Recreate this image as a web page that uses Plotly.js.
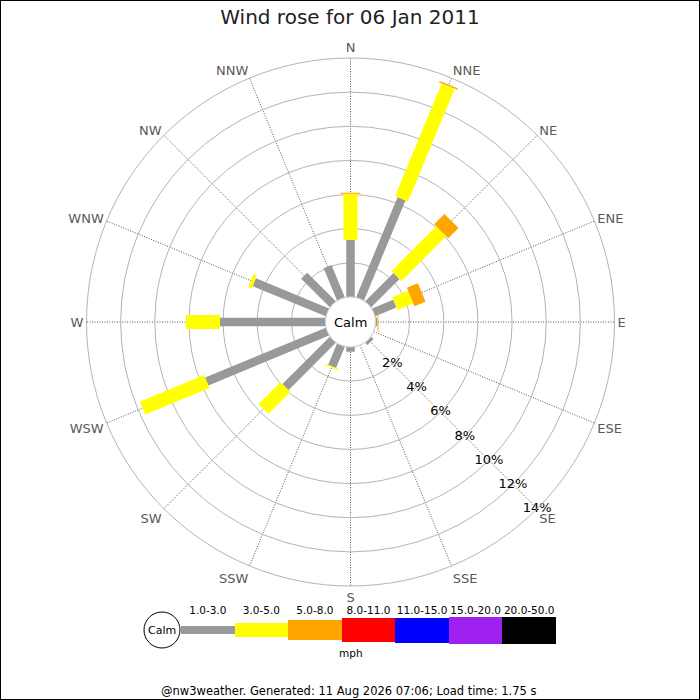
<!DOCTYPE html>
<html>
<head>
<meta charset="utf-8">
<script src="https://cdn.plot.ly/plotly-3.0.1.min.js"></script>
<style>
  html, body { margin: 0; padding: 0; background: #fff; }
  #rose { width: 700px; height: 700px; }
</style>
</head>
<body>
<div id="rose"></div>
<script>
// wind directions, clockwise from north
const directions = ["N", "NNE", "NE", "ENE", "E", "ESE", "SE", "SSE",
                    "S", "SSW", "SW", "WSW", "W", "WNW", "NW", "NNW"];

// percent of the day in each speed class, per direction
const pct1to3 = [3.35, 6.35, 2.35, 1.35, 0.10, 0, 0.20, 0, 0.28, 1.35, 3.93, 7.65, 6.18, 4.64, 2.37, 2.05];
const pct3to5 = [2.70, 7.15, 3.70, 1.00, 0.02, 0, 0, 0, 0, 0.08, 1.80, 4.07, 2.00, 0.22, 0, 0];
const pct5to8 = [0.06, 0.08, 0.85, 0.70, 0.05, 0, 0, 0, 0, 0, 0, 0, 0, 0, 0, 0];

// speed classes (mph) for the key
const speedClasses = ["1.0-3.0", "3.0-5.0", "5.0-8.0", "8.0-11.0", "11.0-15.0", "15.0-20.0", "20.0-50.0"];
const radialTicks = [2, 4, 6, 8, 10, 12, 14];

// styling
const classColors = ["#999999", "#ffff00", "#ffa500", "#ff0000", "#0000ff", "#a020f0", "#000000"];
const classWidths = [8.5, 14, 20, 24, 25, 27, 28];
const FONT = "DejaVu Sans, Verdana, sans-serif";

// px geometry of the rose (centre, outer radius, calm hole)
const W = 700, H = 700;
const cx = 350.5, cy = 322, R = 264, holeR = 25;

const seriesList = [pct1to3, pct3to5, pct5to8];
const traces = [];
let base = directions.map(() => 0);

seriesList.forEach(function (vals, k) {
  const r = [], th = [];
  vals.forEach(function (v, i) {
    if (v > 0) {
      r.push(base[i], base[i] + v, null);
      th.push(directions[i], directions[i], directions[i]);
    }
  });
  base = base.map((b, i) => b + vals[i]);
  traces.push({
    type: "scatterpolar",
    mode: "lines",
    r: r,
    theta: th,
    connectgaps: false,
    line: { color: classColors[k], width: classWidths[k] },
    hoverinfo: "skip",
    showlegend: false
  });
});

// radial percentage labels along the SE spoke
traces.push({
  type: "scatterpolar",
  mode: "text",
  r: radialTicks,
  theta: radialTicks.map(() => "SE"),
  text: radialTicks.map(t => t + "%"),
  textposition: "middle center",
  textfont: { family: FONT, size: 13, color: "#000" },
  cliponaxis: false,
  hoverinfo: "skip",
  showlegend: false
});

// speed key as a little bar chart
traces.push({
  type: "bar",
  xaxis: "x",
  yaxis: "y",
  x: speedClasses.map((_, i) => i),
  y: classWidths,
  base: classWidths.map(w => -w / 2),
  width: 1,
  marker: { color: classColors, line: { width: 0 } },
  cliponaxis: false,
  hoverinfo: "skip",
  showlegend: false
});

const px = x => x / W;
const py = y => 1 - y / H;

function note(text, x, y, size) {
  return { text: text, xref: "paper", yref: "paper", x: px(x), y: py(y),
           xanchor: "center", yanchor: "middle", showarrow: false,
           font: { family: FONT, size: size, color: "#000" } };
}

const layout = {
  width: W,
  height: H,
  margin: { l: 0, r: 0, t: 0, b: 0 },
  paper_bgcolor: "#fff",
  font: { family: FONT, color: "#000" },
  title: {
    text: "Wind rose for 06 Jan 2011",
    font: { family: FONT, size: 20, color: "#222" },
    x: 0.5, xanchor: "center",
    y: py(17), yanchor: "middle"
  },
  polar: {
    domain: { x: [px(cx - R), px(cx + R)], y: [py(cy + R), py(cy - R)] },
    hole: holeR / R,
    bgcolor: "#fff",
    angularaxis: {
      type: "category",
      categoryorder: "array",
      categoryarray: directions,
      rotation: 90,
      direction: "clockwise",
      showline: true,
      linecolor: "#b4b4b4",
      linewidth: 1,
      gridcolor: "#555",
      griddash: "1px,1.5px",
      gridwidth: 1,
      ticks: "",
      tickfont: { family: FONT, size: 13, color: "#5a5a5a" }
    },
    radialaxis: {
      range: [0, 14],
      tickvals: radialTicks,
      showticklabels: false,
      ticks: "",
      showline: false,
      gridcolor: "#b4b4b4",
      gridwidth: 1
    }
  },
  xaxis: {
    domain: [px(181), px(556)],
    range: [-0.5, 6.5],
    side: "top",
    tickvals: speedClasses.map((_, i) => i),
    ticktext: speedClasses,
    tickfont: { family: FONT, size: 10.5, color: "#000" },
    ticks: "",
    showgrid: false,
    zeroline: false,
    showline: false,
    fixedrange: true
  },
  yaxis: {
    domain: [py(647), py(617)],
    range: [-17, 13],
    visible: false,
    fixedrange: true
  },
  bargap: 0,
  plot_bgcolor: "rgba(0,0,0,0)",
  shapes: [
    // calm circle in the rose centre
    { type: "circle", xref: "paper", yref: "paper",
      x0: px(cx - holeR), x1: px(cx + holeR), y0: py(cy + holeR), y1: py(cy - holeR),
      line: { color: "#d0d0d0", width: 1 }, fillcolor: "#fff", layer: "above" },
    // calm circle in the key
    { type: "circle", xref: "paper", yref: "paper",
      x0: px(144), x1: px(180), y0: py(648), y1: py(612),
      line: { color: "#000", width: 1 }, fillcolor: "#fff" },
    // frame
    { type: "rect", xref: "paper", yref: "paper", x0: 0, x1: 1, y0: 0, y1: 1,
      line: { color: "#000", width: 2 } }
  ],
  annotations: [
    note("Calm", cx, cy, 13),
    note("Calm", 162, 630, 11),
    note("mph", 351, 653, 10.5),
    note("@nw3weather. Generated: 11 Aug 2026 07:06; Load time: 1.75 s", 348, 691, 11.5)
  ]
};

Plotly.newPlot("rose", traces, layout, { staticPlot: true, displayModeBar: false });
</script>
</body>
</html>
